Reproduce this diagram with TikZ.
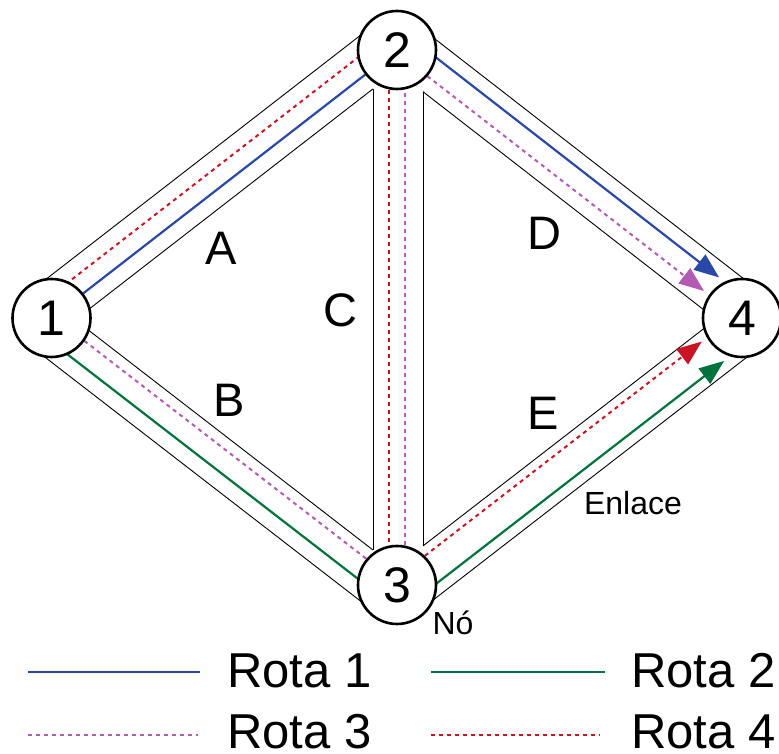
\documentclass[tikz,border=0pt]{standalone}
\usepackage{fontspec}
\setmainfont{Liberation Sans}
\usetikzlibrary{calc,arrows.meta}
\pgfdeclarelayer{background}
\pgfsetlayers{background,main}

\definecolor{routeblue}{RGB}{42,72,165}
\definecolor{routegreen}{RGB}{0,115,60}
\definecolor{routemagenta}{RGB}{180,90,180}
\definecolor{routered}{RGB}{200,20,35}

\begin{document}
\begin{tikzpicture}[x=1pt,y=1pt,
    site/.style={circle,draw,line width=2.6pt,fill=white,minimum size=78pt,inner sep=0pt,font=\fontsize{50}{50}\selectfont},
    wall/.style={black,line width=0.9pt},
    lbl/.style={inner sep=0pt,font=\fontsize{47}{47}\selectfont},
    keytext/.style={inner sep=0pt,anchor=base west,font=\fontsize{49}{49}\selectfont},
    small/.style={inner sep=0pt,anchor=base,font=\fontsize{32}{32}\selectfont},
    rota1/.style={routeblue,line width=2.2pt},
    rota2/.style={routegreen,line width=2.2pt},
    rota3/.style={routemagenta,line width=2pt,dash pattern=on 4pt off 4pt},
    rota4/.style={routered,line width=2pt,dash pattern=on 4pt off 4pt},
    head/.style={-{Triangle[length=25pt,width=19pt]}}]
  \useasboundingbox (0,0) rectangle (779,754);

  % nodes
  \node[site] (n1) at (51.5,436) {1};
  \node[site] (n2) at (397,704) {2};
  \node[site] (n3) at (397,169) {3};
  \node[site] (n4) at (742,436) {4};

  \begin{pgfonlayer}{background}
  % outer walls of the links
  \foreach \a/\b/\o in {n1/n2/34pt, n2/n4/32pt, n4/n3/34pt, n3/n1/35pt}
    \draw[wall] ($(\a)!\o!90:(\b)$) -- ($(\b)!\o!-90:(\a)$);

  % inner walls, stopped where they meet link C
  \draw[wall,shorten >=43pt] ($(n1)!16pt!-90:(n2)$) -- ($(n2)!16pt!90:(n1)$);
  \draw[wall,shorten <=46pt] ($(n2)!17pt!-90:(n4)$) -- ($(n4)!17pt!90:(n2)$);
  \draw[wall,shorten >=44.5pt] ($(n4)!15pt!-90:(n3)$) -- ($(n3)!15pt!90:(n4)$);
  \draw[wall,shorten <=40.5pt] ($(n3)!13pt!-90:(n1)$) -- ($(n1)!13pt!90:(n3)$);

  % link C
  \draw[wall,shorten <=39pt,shorten >=35pt] ($(n2)!24pt!-90:(n3)$) -- ($(n3)!24pt!90:(n2)$);
  \draw[wall,shorten <=41.6pt,shorten >=39pt] ($(n2)!26pt!90:(n3)$) -- ($(n3)!26pt!-90:(n2)$);

  % Rota 1: 1 -> 2 -> 4
  \draw[rota1] (n1) -- (n2);
  \draw[rota1,head,shorten >=42.9pt] ($(n2)!18pt!90:(n4)$) -- ($(n4)!18pt!-90:(n2)$);

  % Rota 2: 1 -> 3 -> 4
  \draw[rota2] ($(n1)!19pt!-90:(n3)$) -- ($(n3)!19pt!90:(n1)$);
  \draw[rota2,head,shorten >=40.4pt] ($(n3)!23pt!-90:(n4)$) -- ($(n4)!23pt!90:(n3)$);

  % Rota 3: 1 -> 3 -> 2 -> 4
  \draw[rota3] ($(n1)!2pt!90:(n3)$) -- ($(n3)!2pt!-90:(n1)$);
  \draw[rota3] ($(n3)!8pt!-90:(n2)$) -- ($(n2)!8pt!90:(n3)$);
  \draw[rota3,head,shorten >=46.5pt] ($(n2)!2pt!-90:(n4)$) -- ($(n4)!2pt!90:(n2)$);

  % Rota 4: 1 -> 2 -> 3 -> 4
  \draw[rota4] ($(n1)!18pt!90:(n2)$) -- ($(n2)!18pt!-90:(n1)$);
  \draw[rota4] ($(n2)!8pt!-90:(n3)$) -- ($(n3)!8pt!90:(n2)$);
  \draw[rota4,head,shorten >=46.1pt] ($(n3)!6pt!90:(n4)$) -- ($(n4)!6pt!-90:(n3)$);
  \end{pgfonlayer}

  % link names
  \node[lbl] (la) at (221,506) {A};
  \node[lbl] (lb) at (229,354) {B};
  \node[lbl] (lc) at (340,444) {C};
  \node[lbl] (ld) at (544,521) {D};
  \node[lbl] (le) at (543,341) {E};
  \node[small] (enlace) at (633,239) {Enlace};
  \node[small] (no) at (453,119) {Nó};

  % legend
  \coordinate (k1a) at (28,82);  \coordinate (k1b) at (200,82);
  \coordinate (k2a) at (431,82); \coordinate (k2b) at (605,82);
  \coordinate (k3a) at (28,19);  \coordinate (k3b) at (198,19);
  \coordinate (k4a) at (431,19); \coordinate (k4b) at (600,19);
  \draw[rota1] (k1a) -- (k1b);
  \draw[rota2] (k2a) -- (k2b);
  \draw[rota3] (k3a) -- (k3b);
  \draw[rota4] (k4a) -- (k4b);
  \node[keytext] (k1) at (227,66) {Rota 1};
  \node[keytext] (k2) at (631,66) {Rota 2};
  \node[keytext] (k3) at (227,5) {Rota 3};
  \node[keytext] (k4) at (631,5) {Rota 4};
\end{tikzpicture}
\end{document}
